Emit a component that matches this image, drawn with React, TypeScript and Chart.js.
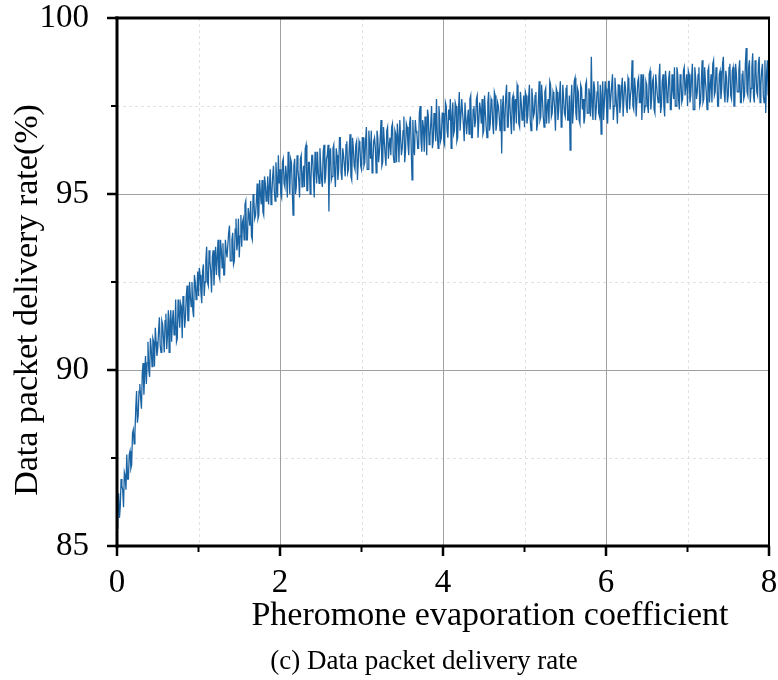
import React, { useEffect, useRef } from 'react';
import { Chart, registerables } from 'chart.js';

Chart.register(...registerables);

// ---- Data ----
const X_STEP = 0.01; // sampling interval of the evaporation coefficient

const rate0to1 = [85.5, 86.2, 86.5, 85.8, 86.1, 86.9, 86.7, 86.6, 86.1, 87.1, 87.0, 86.6, 87.6, 86.9, 86.9, 87.6, 87.7, 87.2, 87.3, 88.2, 88.3, 87.9, 88.2, 88.9, 89.4, 88.5, 88.7, 89.4, 89.6, 89.2, 88.9, 89.9, 90.2, 89.3, 89.9, 90.4, 89.6, 90.2, 90.8, 90.0, 89.8, 90.9, 90.6, 90.1, 90.9, 90.8, 90.1, 91.2, 90.8, 90.4, 90.6, 91.1, 91.5, 90.7, 90.5, 91.4, 91.3, 90.9, 90.5, 91.4, 91.6, 90.6, 91.0, 91.7, 90.5, 91.4, 91.7, 90.8, 91.4, 91.7, 91.0, 91.1, 92.0, 90.8, 90.9, 92.0, 91.6, 91.2, 91.9, 91.8, 90.9, 92.1, 91.9, 91.2, 91.5, 92.1, 92.4, 91.4, 91.4, 92.5, 92.1, 91.8, 92.5, 91.7, 91.5, 92.7, 92.5, 92.0, 92.2, 92.8];
const rate1to2 = [92.1, 92.9, 92.7, 92.2, 91.9, 92.8, 93.0, 92.1, 92.5, 93.1, 93.5, 92.5, 92.4, 93.4, 93.1, 92.8, 92.2, 93.2, 93.4, 92.4, 93.0, 93.5, 92.7, 93.2, 93.7, 92.7, 92.6, 93.7, 93.4, 92.9, 93.6, 92.7, 92.7, 93.7, 93.4, 93.2, 93.2, 93.9, 94.1, 93.1, 93.1, 93.7, 93.9, 93.0, 93.1, 94.0, 94.3, 93.4, 93.6, 94.3, 93.2, 93.8, 94.4, 93.5, 94.2, 94.3, 93.7, 94.7, 94.8, 93.7, 93.7, 94.6, 94.4, 94.1, 94.8, 93.8, 93.7, 95.0, 94.8, 94.3, 94.4, 94.8, 95.3, 94.3, 94.4, 95.4, 95.0, 94.7, 95.4, 94.5, 94.4, 95.5, 95.3, 94.8, 95.0, 95.5, 94.7, 95.2, 95.7, 94.7, 95.0, 95.5, 95.8, 95.1, 94.8, 95.9, 95.4, 94.9, 96.1, 95.3];
const rate2to3 = [95.7, 95.0, 94.9, 95.9, 96.0, 95.3, 95.2, 95.8, 95.5, 94.9, 96.2, 95.7, 95.0, 96.0, 95.9, 95.2, 94.4, 95.8, 96.0, 95.0, 95.2, 96.1, 95.7, 95.4, 94.9, 96.0, 96.1, 95.2, 95.5, 95.8, 95.2, 96.3, 96.4, 95.1, 95.1, 95.9, 95.9, 95.0, 95.4, 96.1, 96.1, 95.5, 94.9, 96.2, 95.8, 95.3, 96.2, 95.6, 95.3, 96.3, 95.8, 95.4, 95.2, 96.2, 96.4, 95.3, 95.5, 96.0, 96.1, 96.4, 94.5, 96.1, 96.3, 95.4, 95.5, 96.3, 96.4, 95.6, 95.2, 96.3, 96.1, 95.4, 95.7, 96.6, 96.6, 95.6, 95.4, 96.3, 96.1, 95.8, 95.5, 96.4, 96.5, 95.6, 95.7, 96.3, 96.7, 95.5, 95.4, 96.6, 96.3, 95.8, 95.7, 96.4, 96.5, 95.4, 95.9, 96.5, 96.4, 95.8];
const rate3to4 = [95.7, 96.6, 96.6, 95.8, 95.9, 96.5, 96.9, 95.7, 95.7, 96.8, 96.4, 96.0, 96.8, 95.6, 95.9, 96.5, 96.6, 96.3, 95.6, 96.8, 96.6, 95.9, 96.2, 96.6, 97.1, 95.8, 95.9, 96.9, 96.5, 96.1, 95.8, 96.8, 96.9, 96.0, 96.4, 96.6, 96.1, 96.9, 97.0, 96.1, 95.9, 96.8, 96.7, 95.9, 97.0, 96.6, 95.9, 97.1, 96.6, 96.1, 96.3, 96.8, 97.2, 95.9, 96.2, 97.0, 96.9, 96.4, 96.1, 97.0, 97.2, 96.3, 95.4, 97.1, 96.4, 96.1, 97.1, 96.8, 96.7, 96.3, 96.3, 97.3, 97.5, 96.5, 96.2, 97.1, 96.9, 96.2, 97.2, 97.0, 96.1, 97.4, 97.2, 96.4, 96.6, 97.0, 97.5, 96.3, 96.5, 97.3, 97.1, 96.5, 97.7, 96.7, 96.3, 97.5, 97.1, 96.5, 96.6, 97.3];
const rate4to5 = [97.3, 96.5, 96.4, 97.6, 97.5, 96.8, 96.6, 97.4, 97.1, 97.7, 96.3, 97.2, 97.6, 96.7, 96.8, 97.6, 97.5, 96.5, 96.6, 97.4, 97.9, 96.8, 96.8, 97.7, 97.3, 97.0, 96.5, 97.6, 97.6, 96.7, 97.1, 97.4, 96.7, 97.7, 97.8, 96.6, 96.6, 97.4, 97.5, 96.9, 97.1, 97.7, 97.8, 96.6, 96.6, 97.6, 97.4, 97.0, 97.7, 96.7, 96.8, 97.8, 97.3, 96.9, 96.6, 97.6, 97.9, 96.8, 97.0, 97.7, 97.6, 97.0, 96.7, 97.9, 97.8, 96.8, 97.0, 97.6, 97.5, 97.2, 96.8, 97.7, 96.15, 97.5, 97.8, 96.8, 97.1, 97.8, 98.1, 96.9, 96.9, 97.9, 97.6, 97.1, 96.7, 97.7, 97.8, 96.8, 97.5, 97.7, 97.0, 98.1, 98.0, 97.0, 96.9, 97.9, 97.6, 97.1, 97.2, 97.8];
const rate5to6 = [96.9, 97.9, 97.8, 97.0, 97.2, 97.7, 98.1, 97.1, 96.8, 98.0, 97.7, 97.2, 97.3, 97.8, 97.9, 96.8, 97.0, 97.6, 98.2, 97.1, 97.2, 98.1, 97.7, 97.2, 96.9, 97.9, 98.0, 97.0, 97.5, 97.7, 97.0, 98.2, 98.1, 97.2, 97.3, 97.9, 97.8, 97.4, 96.8, 98.0, 97.9, 97.1, 97.4, 97.8, 98.2, 96.9, 97.0, 98.1, 97.7, 97.3, 97.2, 98.0, 98.1, 97.1, 97.1, 97.8, 96.25, 97.6, 98.1, 97.0, 97.4, 98.2, 98.3, 97.3, 97.1, 98.0, 97.9, 97.1, 97.0, 98.1, 98.0, 97.4, 97.7, 97.0, 97.2, 98.1, 98.2, 97.3, 97.3, 98.0, 97.8, 97.2, 98.9, 97.5, 97.1, 98.2, 98.0, 97.1, 97.4, 97.9, 98.2, 97.3, 97.2, 98.1, 96.7, 97.8, 98.2, 97.1, 97.6, 98.2];
const rate6to7 = [98.0, 97.2, 97.0, 98.2, 98.2, 97.4, 97.4, 98.1, 98.4, 97.1, 97.5, 98.3, 97.9, 97.5, 97.0, 98.1, 98.1, 97.3, 97.6, 98.0, 98.3, 97.2, 97.2, 98.2, 98.0, 97.5, 97.3, 98.3, 98.2, 97.4, 97.8, 98.0, 98.8, 97.5, 97.4, 98.3, 98.0, 97.2, 97.2, 98.2, 98.3, 97.6, 97.6, 98.4, 97.1, 98.0, 98.4, 97.3, 97.5, 98.2, 98.1, 97.5, 97.3, 98.4, 98.5, 97.4, 97.7, 98.2, 98.3, 97.4, 97.3, 98.4, 98.1, 97.8, 97.6, 98.3, 98.7, 97.3, 97.5, 98.2, 98.4, 97.5, 97.2, 98.5, 98.2, 97.6, 97.7, 98.3, 98.5, 97.4, 97.4, 98.4, 98.0, 97.7, 98.6, 97.5, 97.5, 98.6, 98.4, 97.7, 97.4, 98.4, 98.2, 97.6, 97.7, 98.5, 98.6, 97.8, 97.8, 98.4];
const rate7to8 = [97.5, 98.5, 98.4, 97.6, 97.8, 98.3, 98.7, 97.4, 97.4, 98.6, 98.3, 97.7, 97.9, 98.4, 98.6, 97.5, 97.6, 98.2, 98.8, 97.6, 97.7, 98.6, 98.2, 97.9, 97.4, 98.5, 98.6, 97.6, 98.1, 98.4, 97.6, 98.7, 98.8, 97.8, 97.9, 98.6, 98.4, 97.5, 97.5, 98.4, 98.5, 97.7, 98.0, 98.7, 98.9, 97.9, 97.6, 98.5, 98.3, 97.6, 97.8, 98.6, 98.7, 97.8, 97.7, 98.5, 98.6, 97.5, 97.5, 98.7, 98.4, 97.9, 97.9, 98.5, 98.8, 97.6, 97.6, 98.4, 98.5, 97.7, 97.8, 98.7, 99.15, 97.9, 97.8, 98.6, 98.8, 97.6, 98.0, 98.6, 99.0, 97.8, 97.6, 98.8, 98.5, 97.9, 97.8, 98.7, 98.9, 97.6, 98.1, 98.5, 98.7, 97.8, 97.6, 98.8, 97.3, 98.4, 98.8, 97.8];
const rateAt8 = [98.6];

const X_MAJOR_TICKS = [0, 2, 4, 6, 8];
const X_MINOR_TICKS = [1, 3, 5, 7];
const Y_MAJOR_TICKS = [85, 90, 95, 100];
const Y_MINOR_TICKS = [87.5, 92.5, 97.5];

const X_TITLE = 'Pheromone evaporation coefficient';
const Y_TITLE = 'Data packet delivery rate(%)';
const CAPTION = '(c) Data packet delivery rate';

const FONT = '"Liberation Serif", "Times New Roman", serif';
const LINE_COLOR = '#1b64a4';

const W = 778;
const H = 680;

const allRates = [
  ...rate0to1, ...rate1to2, ...rate2to3, ...rate3to4,
  ...rate4to5, ...rate5to6, ...rate6to7, ...rate7to8, ...rateAt8,
];

const framePlugin = {
  id: 'framePlugin',
  beforeDatasetsDraw(chart: any) {
    const { ctx, chartArea: a, scales } = chart;
    const xs = scales.x;
    const ys = scales.y;
    ctx.save();
    ctx.lineWidth = 1;
    ctx.strokeStyle = '#e2e2e2';
    ctx.setLineDash([3, 3]);
    X_MINOR_TICKS.forEach((v) => {
      const px = Math.round(xs.getPixelForValue(v)) + 0.5;
      ctx.beginPath(); ctx.moveTo(px, a.top); ctx.lineTo(px, a.bottom); ctx.stroke();
    });
    Y_MINOR_TICKS.forEach((v) => {
      const py = Math.round(ys.getPixelForValue(v)) + 0.5;
      ctx.beginPath(); ctx.moveTo(a.left, py); ctx.lineTo(a.right, py); ctx.stroke();
    });
    ctx.setLineDash([]);
    ctx.strokeStyle = '#a0a0a0';
    X_MAJOR_TICKS.slice(1, -1).forEach((v) => {
      const px = Math.round(xs.getPixelForValue(v)) + 0.5;
      ctx.beginPath(); ctx.moveTo(px, a.top); ctx.lineTo(px, a.bottom); ctx.stroke();
    });
    Y_MAJOR_TICKS.slice(1, -1).forEach((v) => {
      const py = Math.round(ys.getPixelForValue(v)) + 0.5;
      ctx.beginPath(); ctx.moveTo(a.left, py); ctx.lineTo(a.right, py); ctx.stroke();
    });
    ctx.restore();
  },
  afterDraw(chart: any) {
    const { ctx, chartArea: a, scales } = chart;
    const xs = scales.x;
    const ys = scales.y;
    ctx.save();
    ctx.strokeStyle = '#000';
    ctx.lineCap = 'butt';
    ctx.lineWidth = 3;
    ctx.beginPath(); ctx.moveTo(a.left, a.top - 1.5); ctx.lineTo(a.left, a.bottom + 1.5); ctx.stroke();
    ctx.beginPath(); ctx.moveTo(a.left - 1.5, a.bottom); ctx.lineTo(a.right + 1, a.bottom); ctx.stroke();
    ctx.beginPath(); ctx.moveTo(a.left - 1.5, a.top); ctx.lineTo(a.right + 1, a.top); ctx.stroke();
    ctx.lineWidth = 2;
    ctx.beginPath(); ctx.moveTo(a.right, a.top); ctx.lineTo(a.right, a.bottom); ctx.stroke();
    ctx.lineWidth = 2.5;
    X_MAJOR_TICKS.forEach((v) => {
      const px = xs.getPixelForValue(v);
      ctx.beginPath(); ctx.moveTo(px, a.bottom); ctx.lineTo(px, a.bottom + 10); ctx.stroke();
    });
    Y_MAJOR_TICKS.forEach((v) => {
      const py = ys.getPixelForValue(v);
      ctx.beginPath(); ctx.moveTo(a.left, py); ctx.lineTo(a.left - 10, py); ctx.stroke();
    });
    ctx.lineWidth = 2;
    X_MINOR_TICKS.forEach((v) => {
      const px = xs.getPixelForValue(v);
      ctx.beginPath(); ctx.moveTo(px, a.bottom); ctx.lineTo(px, a.bottom + 6); ctx.stroke();
    });
    Y_MINOR_TICKS.forEach((v) => {
      const py = ys.getPixelForValue(v);
      ctx.beginPath(); ctx.moveTo(a.left, py); ctx.lineTo(a.left - 6, py); ctx.stroke();
    });
    ctx.fillStyle = '#000';
    ctx.textAlign = 'center';
    ctx.textBaseline = 'alphabetic';
    ctx.font = `34px ${FONT}`;
    ctx.fillText(X_TITLE, 490, 625);
    ctx.save();
    ctx.translate(37, 300);
    ctx.rotate(-Math.PI / 2);
    ctx.fillText(Y_TITLE, 0, 0);
    ctx.restore();
    ctx.font = `27px ${FONT}`;
    ctx.fillText(CAPTION, 424, 669);
    ctx.restore();
  },
};

export default function App() {
  const ref = useRef<HTMLCanvasElement | null>(null);

  useEffect(() => {
    if (!ref.current) return;
    const points = allRates.map((y, i) => ({ x: +(i * X_STEP).toFixed(2), y }));
    const chart = new Chart(ref.current, {
      type: 'line',
      data: {
        datasets: [
          {
            data: points,
            borderColor: LINE_COLOR,
            borderWidth: 1.3,
            pointRadius: 0,
            tension: 0,
            fill: false,
          },
        ],
      },
      options: {
        responsive: false,
        animation: false,
        layout: { padding: { left: 0, right: 9, top: 18, bottom: 0 } },
        plugins: {
          legend: { display: false },
          tooltip: { enabled: false },
          title: { display: false },
        },
        scales: {
          x: {
            type: 'linear',
            min: 0,
            max: 8,
            grid: { display: false },
            border: { display: false },
            afterFit: (s: any) => {
              s.height = 134;
              s.paddingLeft = 0; s.paddingRight = 0; s.paddingTop = 0; s.paddingBottom = 0;
            },
            ticks: {
              stepSize: 1,
              autoSkip: false,
              maxRotation: 0,
              padding: 13,
              color: '#000',
              font: { family: FONT, size: 33, lineHeight: 1 },
              callback: (v: any) => (X_MAJOR_TICKS.includes(Number(v)) ? String(v) : ''),
            },
          },
          y: {
            type: 'linear',
            min: 85,
            max: 100,
            grid: { display: false },
            border: { display: false },
            afterFit: (s: any) => {
              s.width = 117;
              s.paddingLeft = 0; s.paddingRight = 0; s.paddingTop = 0; s.paddingBottom = 0;
            },
            ticks: {
              stepSize: 2.5,
              autoSkip: false,
              padding: 20,
              color: '#000',
              font: { family: FONT, size: 33, lineHeight: 1 },
              callback: (v: any) => (Y_MAJOR_TICKS.includes(Number(v)) ? String(v) : ''),
            },
          },
        },
      },
      plugins: [framePlugin],
    });
    return () => chart.destroy();
  }, []);

  return (
    <div style={{ position: 'absolute', left: 0, top: 0, width: W, height: H, background: '#fff' }}>
      <canvas ref={ref} width={W} height={H} style={{ display: 'block', width: W, height: H }} />
    </div>
  );
}
